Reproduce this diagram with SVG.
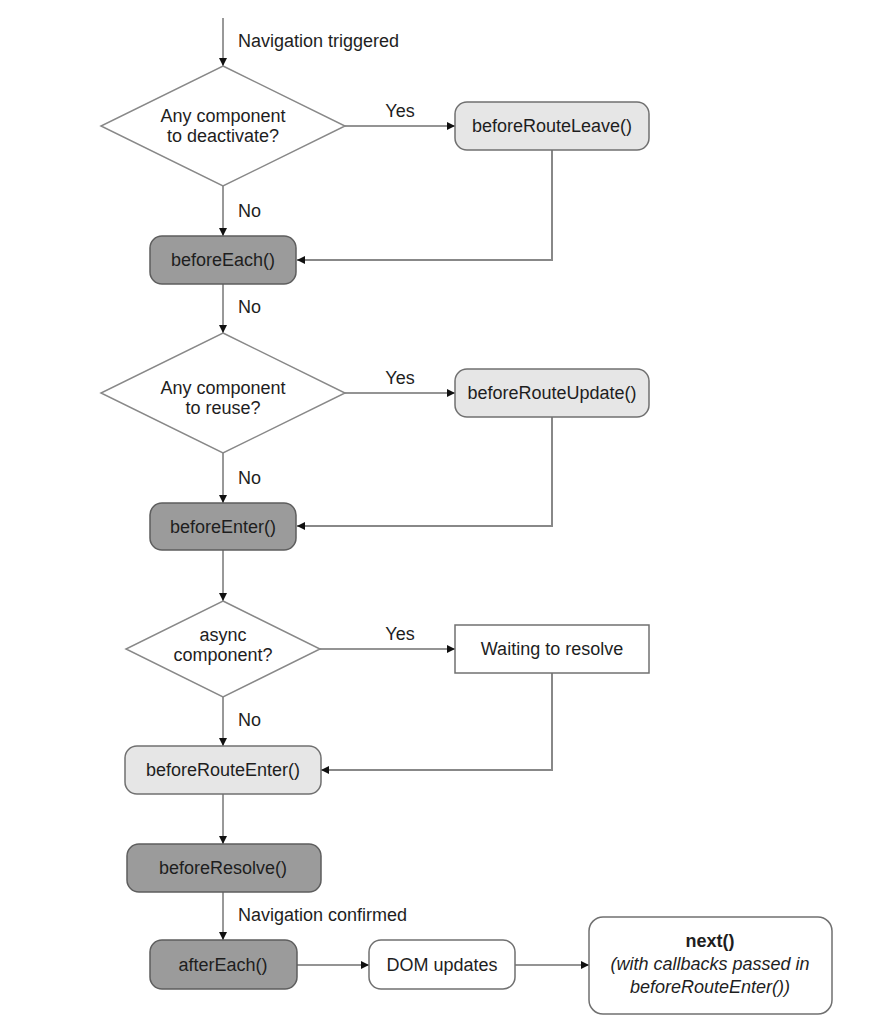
<svg xmlns="http://www.w3.org/2000/svg" width="873" height="1036" viewBox="0 0 873 1036">
<style>
text{font-family:"Liberation Sans",Arial,sans-serif;font-size:18px;fill:#1e1e1e}
.c{text-anchor:middle}
.dark{fill:#9b9b9b;stroke:#5e5e5e;stroke-width:1.5}
.light{fill:#e6e6e6;stroke:#707070;stroke-width:1.5}
.white{fill:#fff;stroke:#707070;stroke-width:1.5}
.dia{fill:#fff;stroke:#888;stroke-width:1.5}
.ln{fill:none;stroke:#333;stroke-width:1}
.hl{fill:none;stroke:#707070;stroke-width:1.4}
.ret{fill:none;stroke:#888;stroke-width:2}
</style>
<defs>
<marker id="ah" markerUnits="userSpaceOnUse" markerWidth="9" markerHeight="8" refX="8" refY="4" orient="auto">
<path d="M0,0 L8,4 L0,8 Z" fill="#111"/>
</marker>
</defs>
<rect width="873" height="1036" fill="#fff"/>
<g id="connectors">
<line class="ln" x1="223" y1="18" x2="223" y2="66" marker-end="url(#ah)"/>
<line class="hl" x1="345" y1="126" x2="455" y2="126" marker-end="url(#ah)"/>
<path class="ret" d="M552,150 V260 H297" marker-end="url(#ah)"/>
<line class="ln" x1="223" y1="186" x2="223" y2="236" marker-end="url(#ah)"/>
<line class="ln" x1="223" y1="284" x2="223" y2="333" marker-end="url(#ah)"/>
<line class="hl" x1="345" y1="393" x2="455" y2="393" marker-end="url(#ah)"/>
<path class="ret" d="M552,417 V526 H297" marker-end="url(#ah)"/>
<line class="ln" x1="223" y1="453" x2="223" y2="503" marker-end="url(#ah)"/>
<line class="ln" x1="223" y1="550" x2="223" y2="601" marker-end="url(#ah)"/>
<line class="hl" x1="320" y1="649" x2="455" y2="649" marker-end="url(#ah)"/>
<path class="ret" d="M552,673 V770 H321" marker-end="url(#ah)"/>
<line class="ln" x1="223" y1="697" x2="223" y2="746" marker-end="url(#ah)"/>
<line class="ln" x1="223" y1="794" x2="223" y2="844" marker-end="url(#ah)"/>
<line class="ln" x1="223" y1="892" x2="223" y2="940" marker-end="url(#ah)"/>
<line class="hl" x1="297" y1="965" x2="369" y2="965" marker-end="url(#ah)"/>
<line class="hl" x1="515" y1="965" x2="589" y2="965" marker-end="url(#ah)"/>
<text x="238" y="47">Navigation triggered</text>
<text x="400" y="117" class="c">Yes</text>
<text x="238" y="217">No</text>
<text x="238" y="313">No</text>
<text x="400" y="384" class="c">Yes</text>
<text x="238" y="484">No</text>
<text x="400" y="640" class="c">Yes</text>
<text x="238" y="726">No</text>
<text x="238" y="921">Navigation confirmed</text>
</g>
<g id="d1">
<polygon class="dia" points="223,66 345,126 223,186 101,126"/>
<text x="223" y="122" class="c">Any component</text>
<text x="223" y="142" class="c">to deactivate?</text>
</g>
<g id="beforeRouteLeave">
<rect class="light" x="455" y="102" width="194" height="48" rx="12"/>
<text x="552" y="132" class="c">beforeRouteLeave()</text>
</g>
<g id="beforeEach">
<rect class="dark" x="150" y="236" width="146" height="48" rx="12"/>
<text x="223" y="266" class="c">beforeEach()</text>
</g>
<g id="d2">
<polygon class="dia" points="223,333 345,393 223,453 101,393"/>
<text x="223" y="394" class="c">Any component</text>
<text x="223" y="414" class="c">to reuse?</text>
</g>
<g id="beforeRouteUpdate">
<rect class="light" x="455" y="369" width="194" height="48" rx="12"/>
<text x="552" y="399" class="c">beforeRouteUpdate()</text>
</g>
<g id="beforeEnter">
<rect class="dark" x="150" y="503" width="146" height="47" rx="12"/>
<text x="223" y="533" class="c">beforeEnter()</text>
</g>
<g id="d3">
<polygon class="dia" points="223,601 320,649 223,697 126,649"/>
<text x="223" y="641" class="c">async</text>
<text x="223" y="661" class="c">component?</text>
</g>
<g id="waiting">
<rect class="white" x="455" y="625" width="194" height="48"/>
<text x="552" y="655" class="c">Waiting to resolve</text>
</g>
<g id="beforeRouteEnter">
<rect class="light" x="125" y="746" width="196" height="48" rx="12"/>
<text x="223" y="776" class="c">beforeRouteEnter()</text>
</g>
<g id="beforeResolve">
<rect class="dark" x="127" y="844" width="194" height="48" rx="12"/>
<text x="223" y="874" class="c">beforeResolve()</text>
</g>
<g id="afterEach">
<rect class="dark" x="150" y="940" width="147" height="49" rx="12"/>
<text x="223" y="971" class="c">afterEach()</text>
</g>
<g id="domUpdates">
<rect class="white" x="369" y="940" width="146" height="49" rx="12"/>
<text x="442" y="971" class="c">DOM updates</text>
</g>
<g id="next">
<rect class="white" x="589" y="917" width="243" height="97" rx="14"/>
<text x="710" y="947" class="c" font-weight="bold">next()</text>
<text x="710" y="970" class="c" font-style="italic">(with callbacks passed in</text>
<text x="710" y="993" class="c" font-style="italic">beforeRouteEnter())</text>
</g>
</svg>
